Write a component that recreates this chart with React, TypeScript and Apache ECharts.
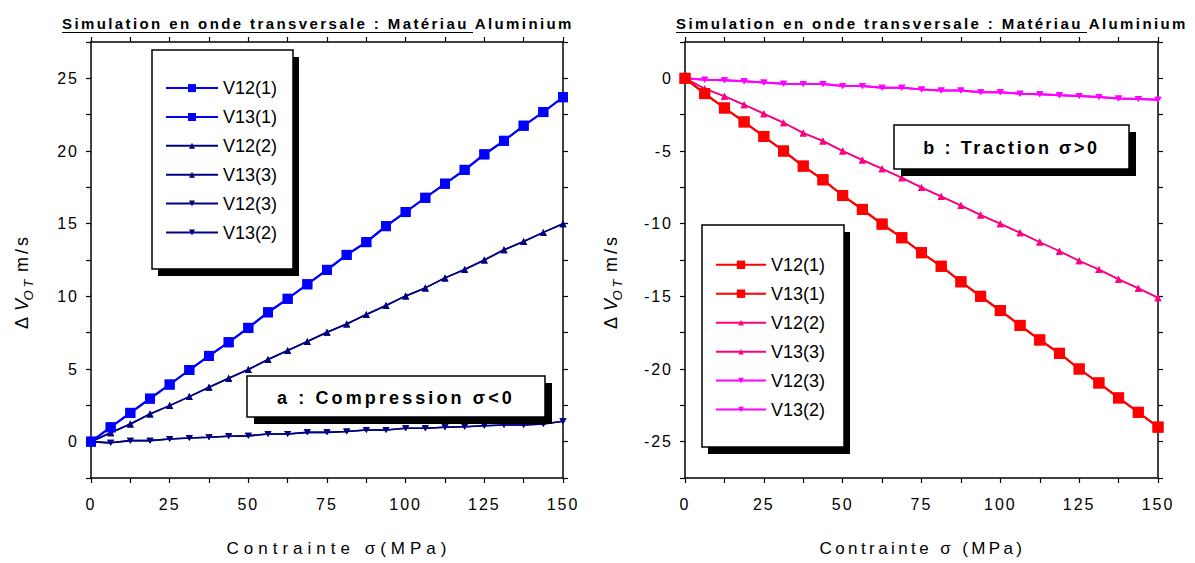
import React, { useEffect, useRef } from 'react';
import * as echarts from 'echarts';

// ---------- data ----------
const SIGMA = [0, 6.25, 12.5, 18.75, 25, 31.25, 37.5, 43.75, 50, 56.25, 62.5, 68.75, 75, 81.25, 87.5, 93.75, 100, 106.25, 112.5, 118.75, 125, 131.25, 137.5, 143.75, 150];

// a : Compression
const compV12_1 = [0, 0.99, 1.98, 2.96, 3.93, 4.93, 5.9, 6.84, 7.83, 8.9, 9.83, 10.83, 11.82, 12.85, 13.73, 14.83, 15.8, 16.78, 17.75, 18.7, 19.77, 20.7, 21.74, 22.68, 23.7];
const compV13_1 = [0, 0.99, 1.98, 2.96, 3.93, 4.93, 5.9, 6.84, 7.83, 8.9, 9.83, 10.83, 11.82, 12.85, 13.73, 14.83, 15.8, 16.78, 17.75, 18.7, 19.77, 20.7, 21.74, 22.68, 23.7];
const compV12_2 = [0, 0.62, 1.22, 1.9, 2.48, 3.1, 3.74, 4.36, 4.96, 5.65, 6.27, 6.89, 7.53, 8.1, 8.75, 9.37, 10.03, 10.58, 11.27, 11.85, 12.5, 13.2, 13.77, 14.4, 15.0];
const compV13_3 = [0, 0.62, 1.22, 1.9, 2.48, 3.1, 3.74, 4.36, 4.96, 5.65, 6.27, 6.89, 7.53, 8.1, 8.75, 9.37, 10.03, 10.58, 11.27, 11.85, 12.5, 13.2, 13.77, 14.4, 15.0];
const compV12_3 = [0, -0.08, 0.07, 0.07, 0.18, 0.25, 0.3, 0.37, 0.4, 0.53, 0.53, 0.64, 0.64, 0.7, 0.8, 0.8, 0.92, 0.92, 0.99, 1.03, 1.1, 1.15, 1.15, 1.22, 1.4];
const compV13_2 = [0, -0.08, 0.07, 0.07, 0.18, 0.25, 0.3, 0.37, 0.4, 0.53, 0.53, 0.64, 0.64, 0.7, 0.8, 0.8, 0.92, 0.92, 0.99, 1.03, 1.1, 1.15, 1.15, 1.22, 1.4];

// b : Traction
const tracV12_1 = [0, -1.05, -2.04, -3.0, -4.0, -5.0, -6.04, -6.98, -8.06, -9.02, -10.03, -10.97, -12.0, -12.93, -14.0, -15.0, -15.98, -17.0, -18.0, -18.92, -20.0, -20.96, -21.99, -22.98, -24.0];
const tracV13_1 = [0, -1.05, -2.04, -3.0, -4.0, -5.0, -6.04, -6.98, -8.06, -9.02, -10.03, -10.97, -12.0, -12.93, -14.0, -15.0, -15.98, -17.0, -18.0, -18.92, -20.0, -20.96, -21.99, -22.98, -24.0];
const tracV12_2 = [0, -0.71, -1.24, -1.81, -2.43, -3.05, -3.76, -4.31, -5.0, -5.62, -6.22, -6.84, -7.51, -8.13, -8.75, -9.41, -10.0, -10.63, -11.27, -11.89, -12.56, -13.15, -13.82, -14.44, -15.1];
const tracV13_3 = [0, -0.71, -1.24, -1.81, -2.43, -3.05, -3.76, -4.31, -5.0, -5.62, -6.22, -6.84, -7.51, -8.13, -8.75, -9.41, -10.0, -10.63, -11.27, -11.89, -12.56, -13.15, -13.82, -14.44, -15.1];
const tracV12_3 = [0, -0.09, -0.14, -0.2, -0.28, -0.37, -0.39, -0.39, -0.53, -0.53, -0.64, -0.64, -0.76, -0.83, -0.83, -0.96, -0.96, -1.06, -1.1, -1.17, -1.22, -1.29, -1.38, -1.42, -1.47];
const tracV13_2 = [0, -0.09, -0.14, -0.2, -0.28, -0.37, -0.39, -0.39, -0.53, -0.53, -0.64, -0.64, -0.76, -0.83, -0.83, -0.96, -0.96, -1.06, -1.1, -1.17, -1.22, -1.29, -1.38, -1.42, -1.47];

const SERIES_NAMES = ['V12(1)', 'V13(1)', 'V12(2)', 'V13(3)', 'V12(3)', 'V13(2)'];
const TITLE = 'Simulation en onde transversale : Matériau Aluminium';
const X_NAME_A = 'Contrainte σ(MPa)';
const X_NAME_B = 'Contrainte σ (MPa)';
const LABEL_A = 'a : Compression σ<0';
const LABEL_B = 'b : Traction σ>0';

const FONT = "'Liberation Sans', Arial, Helvetica, sans-serif";
const DOWN_TRI = 'path://M0,0L10,0L5,9Z';

type SeriesDef = { name: string; values: number[]; color: string; symbol: string; size: number | number[]; lw: number };

type Panel = {
  series: SeriesDef[];
  yMin: number;
  yMax: number;
  xName: string;
  xNameShift: number;
  gridLeft: number;
  gridWidth: number;
  titleX: number;
  underlineEnd: number;
  legBox: number[];
  legX: number;
  legSqTop: number;
  legSqH: number;
  legTriTop: number;
  legTriH: number;
  legWidth: number;
  noteBox: number[];
  noteText: string;
  yNameX: number;
};

function spacingFor(t: string): number {
  if (t === TITLE) return 2.4;
  if (/^-?\d+(\.\d+)?$/.test(t)) return 2;
  if (t === X_NAME_A) return 5;
  if (t === X_NAME_B) return 3.4;
  if (t === LABEL_A) return 3.1;
  if (t === LABEL_B) return 2.6;
  if (t.indexOf('Δ') >= 0 || t === 'V' || t === 'OT' || t.indexOf('m/s') >= 0) return 3;
  return 0;
}

function applySpacing(el: HTMLElement) {
  el.querySelectorAll('text').forEach((t) => {
    const s = spacingFor((t.textContent || '').trim());
    if (s) t.setAttribute('letter-spacing', String(s));
  });
}

const LEG_GAP = 10.9;

function buildOption(p: Panel): any {
  const axisLine = { show: true, onZero: false, lineStyle: { color: '#000', width: 1.5 } };
  const tick = { show: true, length: 5, lineStyle: { color: '#000', width: 1.2 } };
  const grid = { left: p.gridLeft, top: 42, width: p.gridWidth, height: 436 };
  const fiveOnly = (v: number) => (Math.abs(v / 5 - Math.round(v / 5)) < 1e-6 ? String(Math.round(v)) : '');

  const series = p.series.map((s, i) => ({
    name: s.name,
    type: 'line',
    xAxisIndex: 0,
    yAxisIndex: 0,
    data: SIGMA.map((x, k) => [x, s.values[k]]),
    symbol: s.symbol,
    symbolSize: s.size,
    lineStyle: { color: s.color, width: s.lw },
    itemStyle: { color: s.color },
    emphasis: { disabled: true },
    z: 10 - i,
  }));

  const legCommon = {
    orient: 'vertical',
    left: p.legX,
    padding: 0,
    itemWidth: p.legWidth,
    itemGap: LEG_GAP,
    selectedMode: false,
    z: 300,
    textStyle: { fontSize: 18, fontFamily: FONT, color: '#000' },
  };

  const [bx, by, bw, bh] = p.legBox;
  const [nx, ny, nw, nh] = p.noteBox;

  return {
    animation: false,
    backgroundColor: '#fff',
    grid,
    xAxis: [
      {
        type: 'value', gridIndex: 0, position: 'bottom', min: 0, max: 150, interval: 25,
        axisLine, axisTick: tick,
        minorTick: { show: true, splitNumber: 2, length: 5, lineStyle: { color: '#000', width: 1.2 } },
        splitLine: { show: false }, minorSplitLine: { show: false },
        axisLabel: { color: '#000', fontSize: 16, fontFamily: FONT, margin: 18 },
        name: p.xName, nameLocation: 'middle', nameGap: 62,
        nameTextStyle: { fontSize: 17, color: '#000', fontFamily: FONT, padding: [0, 0, 0, p.xNameShift * 2] },
      },
      {
        type: 'value', gridIndex: 0, position: 'top', min: 0, max: 150, interval: 25,
        axisLine, axisTick: tick,
        minorTick: { show: true, splitNumber: 2, length: 5, lineStyle: { color: '#000', width: 1.2 } },
        splitLine: { show: false }, axisLabel: { show: false },
      },
    ],
    yAxis: [
      {
        type: 'value', gridIndex: 0, position: 'left', min: p.yMin, max: p.yMax, interval: 2.5,
        axisLine, axisTick: tick, splitLine: { show: false },
        axisLabel: { color: '#000', fontSize: 16, fontFamily: FONT, margin: 12, formatter: fiveOnly },
      },
      {
        type: 'value', gridIndex: 0, position: 'right', min: p.yMin, max: p.yMax, interval: 2.5,
        axisLine, axisTick: tick, splitLine: { show: false }, axisLabel: { show: false },
      },
    ],
    legend: [
      {
        ...legCommon,
        data: SERIES_NAMES.slice(0, 2),
        top: p.legSqTop,
        itemHeight: p.legSqH,
      },
      {
        ...legCommon,
        data: SERIES_NAMES.slice(2),
        top: p.legTriTop,
        itemHeight: p.legTriH,
      },
    ],
    series,
    graphic: [
      {
        type: 'text', x: p.titleX, y: 23, z: 100,
        style: { text: TITLE, font: `bold 15px ${FONT}`, fill: '#000', align: 'left', verticalAlign: 'middle' },
      },
      {
        type: 'line', z: 100,
        shape: { x1: p.titleX, y1: 32.5, x2: p.underlineEnd, y2: 32.5 },
        style: { stroke: '#000', lineWidth: 1.2 },
      },
      { type: 'rect', z: 100, shape: { x: bx + 6, y: by + 7, width: bw, height: bh }, style: { fill: '#000' } },
      { type: 'rect', z: 101, shape: { x: bx, y: by, width: bw, height: bh }, style: { fill: '#fff', stroke: '#000', lineWidth: 1.5 } },
      { type: 'rect', z: 100, shape: { x: nx + 7, y: ny + 7, width: nw, height: nh }, style: { fill: '#000' } },
      { type: 'rect', z: 101, shape: { x: nx, y: ny, width: nw, height: nh }, style: { fill: '#fff', stroke: '#000', lineWidth: 1.5 } },
      {
        type: 'text', x: nx + nw / 2, y: ny + nh / 2 + 1, z: 102,
        style: { text: p.noteText, font: `bold 18px ${FONT}`, fill: '#000', align: 'center', verticalAlign: 'middle' },
      },
      {
        type: 'text', x: p.yNameX, y: 283, rotation: Math.PI / 2, z: 100,
        style: {
          text: '{d|Δ}{v|V}{s|OT}{m|m/s}',
          align: 'center', verticalAlign: 'middle', fill: '#000',
          rich: {
            d: { fontSize: 18, fontFamily: FONT, lineHeight: 26, verticalAlign: 'middle', fill: '#000', padding: [0, 6, 0, 0] },
            v: { fontSize: 18, fontFamily: FONT, fontStyle: 'italic', lineHeight: 26, verticalAlign: 'middle', fill: '#000' },
            s: { fontSize: 13, fontFamily: FONT, fontStyle: 'italic', lineHeight: 26, verticalAlign: 'bottom', fill: '#000', padding: [0, 12, 0, 0] },
            m: { fontSize: 18, fontFamily: FONT, lineHeight: 26, verticalAlign: 'middle', fill: '#000' },
          },
        },
      },
    ],
  };
}

const LEFT_OFF = 0;
const RIGHT_OFF = 598;

const panelA: Panel = {
  series: [
    { name: SERIES_NAMES[0], values: compV12_1, color: '#0000ff', symbol: 'rect', size: 10, lw: 2 },
    { name: SERIES_NAMES[1], values: compV13_1, color: '#0000ff', symbol: 'rect', size: 10, lw: 2 },
    { name: SERIES_NAMES[2], values: compV12_2, color: '#000080', symbol: 'triangle', size: 7, lw: 1.6 },
    { name: SERIES_NAMES[3], values: compV13_3, color: '#000080', symbol: 'triangle', size: 7, lw: 1.6 },
    { name: SERIES_NAMES[4], values: compV12_3, color: '#000080', symbol: DOWN_TRI, size: [7, 6], lw: 1.6 },
    { name: SERIES_NAMES[5], values: compV13_2, color: '#000080', symbol: DOWN_TRI, size: [7, 6], lw: 1.6 },
  ],
  yMin: -2.5,
  yMax: 27.5,
  xName: X_NAME_A,
  xNameShift: 12,
  gridLeft: 91 - LEFT_OFF,
  gridWidth: 472,
  titleX: 62 - LEFT_OFF,
  underlineEnd: 473 - LEFT_OFF,
  legBox: [152 - LEFT_OFF, 50, 141, 219],
  legX: 165 - LEFT_OFF,
  legSqTop: 79.1,
  legSqH: 10,
  legTriTop: 136.8,
  legTriH: 7.5,
  legWidth: 52,
  noteBox: [247 - LEFT_OFF, 376, 298, 41],
  noteText: LABEL_A,
  yNameX: 22 - LEFT_OFF,
};

const panelB: Panel = {
  series: [
    { name: SERIES_NAMES[0], values: tracV12_1, color: '#ff0000', symbol: 'rect', size: 11, lw: 2 },
    { name: SERIES_NAMES[1], values: tracV13_1, color: '#ff0000', symbol: 'rect', size: 11, lw: 2 },
    { name: SERIES_NAMES[2], values: tracV12_2, color: '#ff0080', symbol: 'triangle', size: 7, lw: 1.6 },
    { name: SERIES_NAMES[3], values: tracV13_3, color: '#ff0080', symbol: 'triangle', size: 7, lw: 1.6 },
    { name: SERIES_NAMES[4], values: tracV12_3, color: '#ff00ff', symbol: DOWN_TRI, size: [7, 6], lw: 2 },
    { name: SERIES_NAMES[5], values: tracV13_2, color: '#ff00ff', symbol: DOWN_TRI, size: [7, 6], lw: 2 },
  ],
  yMin: -27.5,
  yMax: 2.5,
  xName: X_NAME_B,
  xNameShift: 1,
  gridLeft: 685 - RIGHT_OFF,
  gridWidth: 473,
  titleX: 676 - RIGHT_OFF,
  underlineEnd: 1087 - RIGHT_OFF,
  legBox: [702 - RIGHT_OFF, 225, 142, 222],
  legX: 715 - RIGHT_OFF,
  legSqTop: 255.8,
  legSqH: 10.5,
  legTriTop: 313.8,
  legTriH: 7,
  legWidth: 50,
  noteBox: [894 - RIGHT_OFF, 125, 235, 44],
  noteText: LABEL_B,
  yNameX: 611 - RIGHT_OFF,
};

function ChartPanel({ panel, left, width }: { panel: Panel; left: number; width: number }) {
  const ref = useRef<HTMLDivElement>(null);
  useEffect(() => {
    const el = ref.current;
    if (!el) return;
    const chart = echarts.init(el, undefined, { renderer: 'svg' });
    chart.setOption(buildOption(panel));
    applySpacing(el);
    const onFinished = () => applySpacing(el);
    chart.on('finished', onFinished);
    const t = setTimeout(() => applySpacing(el), 50);
    return () => {
      clearTimeout(t);
      chart.off('finished', onFinished);
      chart.dispose();
    };
  }, [panel]);
  return <div ref={ref} style={{ position: 'absolute', left, top: 0, width, height: 563 }} />;
}

export default function App() {
  return (
    <div style={{ position: 'fixed', left: 0, top: 0, width: 1195, height: 563, background: '#fff' }}>
      <ChartPanel panel={panelA} left={LEFT_OFF} width={RIGHT_OFF} />
      <ChartPanel panel={panelB} left={RIGHT_OFF} width={1195 - RIGHT_OFF} />
    </div>
  );
}
